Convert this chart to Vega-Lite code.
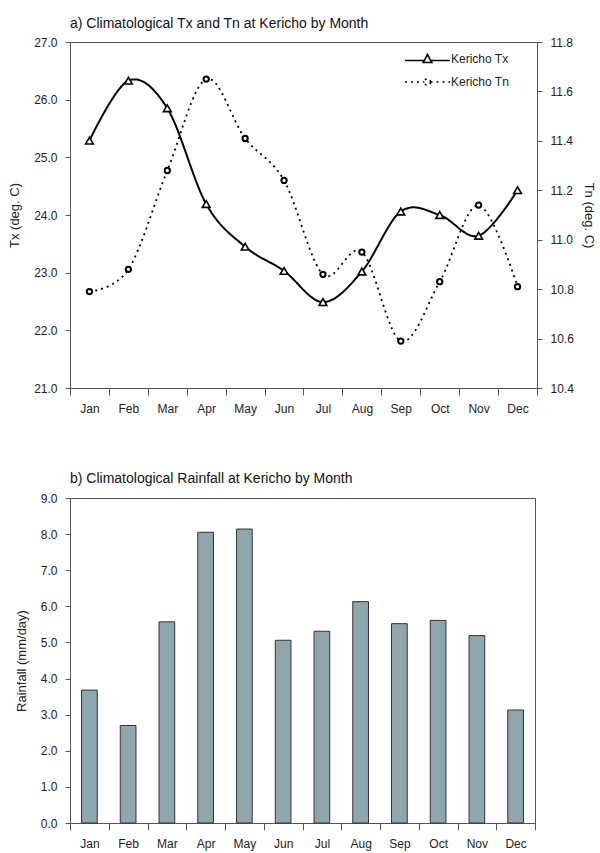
{
  "$schema": "https://vega.github.io/schema/vega-lite/v6.json",
  "background": "white",
  "padding": {"left": 8, "top": 16, "right": 2, "bottom": 2},
  "config": {
    "font": "Liberation Sans",
    "view": {"stroke": "#555555", "strokeWidth": 1},
    "axis": {
      "grid": false,
      "domainColor": "#555555",
      "tickColor": "#555555",
      "labelColor": "#222222",
      "titleColor": "#222222",
      "labelFontSize": 12,
      "titleFontSize": 13,
      "titleFontWeight": "normal",
      "labelFont": "Liberation Sans",
      "titleFont": "Liberation Sans"
    },
    "legend": {"labelFont": "Liberation Sans"},
    "title": {"font": "Liberation Sans", "fontSize": 14, "fontWeight": "normal", "anchor": "start", "frame": "group", "color": "#111111"}
  },
  "data": {
    "values": [
      {"month": "Jan", "tx": 25.29, "tn": 10.79, "rain": 3.68},
      {"month": "Feb", "tx": 26.33, "tn": 10.88, "rain": 2.70},
      {"month": "Mar", "tx": 25.85, "tn": 11.28, "rain": 5.57},
      {"month": "Apr", "tx": 24.19, "tn": 11.65, "rain": 8.05},
      {"month": "May", "tx": 23.45, "tn": 11.41, "rain": 8.14},
      {"month": "Jun", "tx": 23.03, "tn": 11.24, "rain": 5.06},
      {"month": "Jul", "tx": 22.49, "tn": 10.86, "rain": 5.31},
      {"month": "Aug", "tx": 23.02, "tn": 10.95, "rain": 6.13},
      {"month": "Sep", "tx": 24.06, "tn": 10.59, "rain": 5.52},
      {"month": "Oct", "tx": 24.00, "tn": 10.83, "rain": 5.61},
      {"month": "Nov", "tx": 23.64, "tn": 11.14, "rain": 5.19},
      {"month": "Dec", "tx": 24.43, "tn": 10.81, "rain": 3.13}
    ]
  },
  "spacing": 56,
  "vconcat": [
    {
      "width": 467,
      "height": 346,
      "title": {"text": "a) Climatological Tx and Tn at Kericho by Month", "offset": 5},
      "encoding": {
        "x": {
          "field": "month", "type": "ordinal", "sort": null,
          "scale": {"type": "band", "paddingInner": 0, "paddingOuter": 0},
          "axis": {"title": null, "labelAngle": 0, "tickBand": "extent", "tickSize": 7, "labelPadding": 8}
        }
      },
      "layer": [
        {
          "encoding": {
            "y": {
              "field": "tx", "type": "quantitative",
              "scale": {"domain": [21, 27], "zero": false, "nice": false},
              "axis": {"title": "Tx (deg. C)", "values": [21, 22, 23, 24, 25, 26, 27], "format": ".1f", "tickSize": 5, "labelPadding": 8, "titlePadding": 12}
            }
          },
          "layer": [
            {
              "mark": {"type": "line", "interpolate": "cardinal", "color": "black", "strokeWidth": 2},
              "encoding": {
                "strokeDash": {
                  "datum": "Kericho Tx", "type": "nominal",
                  "scale": {"domain": ["Kericho Tx", "Kericho Tn"], "range": [[1, 0], [2, 4]]},
                  "legend": {
                    "title": null,
                    "orient": "none",
                    "legendX": 334,
                    "legendY": 6,
                    "symbolSize": 400,
                    "symbolStrokeColor": "black",
                    "symbolStrokeWidth": 1.6,
                    "symbolFillColor": "white",
                    "labelOffset": 25,
                    "labelFontSize": 12,
                    "labelColor": "#222222",
                    "rowPadding": 5,
                    "encode": {
                      "symbols": {
                        "update": {
                          "shape": {"signal": "datum.value === 'Kericho Tx' ? 'M-1,0.15H0.85M1.65,0.15H3.5M1.25,-0.45L1.68,0.35L0.82,0.35Z' : 'M-1,0H0.95M1.55,0H3.5M1.55,0A0.3,0.35 0 1 1 0.95,0A0.3,0.35 0 1 1 1.55,0'"}
                        }
                      }
                    }
                  }
                }
              }
            },
            {
              "mark": {"type": "point", "shape": "triangle-up", "filled": true, "fill": "white", "stroke": "black", "strokeWidth": 1.6, "size": 60, "opacity": 1}
            }
          ]
        },
        {
          "encoding": {
            "y": {
              "field": "tn", "type": "quantitative",
              "scale": {"domain": [10.4, 11.8], "zero": false, "nice": false},
              "axis": {"title": "Tn (deg. C)", "orient": "right", "values": [10.4, 10.6, 10.8, 11.0, 11.2, 11.4, 11.6, 11.8], "format": ".1f", "tickSize": 5, "labelPadding": 8, "titlePadding": 8}
            }
          },
          "layer": [
            {
              "mark": {"type": "line", "interpolate": "cardinal", "color": "black", "strokeWidth": 1.8},
              "encoding": {"strokeDash": {"datum": "Kericho Tn", "type": "nominal"}}
            },
            {
              "mark": {"type": "point", "shape": "circle", "filled": true, "fill": "white", "stroke": "black", "strokeWidth": 2, "size": 28, "opacity": 1}
            }
          ]
        }
      ],
      "resolve": {"scale": {"y": "independent"}}
    },
    {
      "width": 465,
      "height": 325,
      "title": {"text": "b) Climatological Rainfall at Kericho by Month", "offset": 6},
      "mark": {"type": "bar", "width": {"band": 0.405}, "fill": "#8fa6ac", "stroke": "#333333", "strokeWidth": 1},
      "encoding": {
        "x": {
          "field": "month", "type": "ordinal", "sort": null,
          "scale": {"type": "band", "paddingInner": 0, "paddingOuter": 0},
          "axis": {"title": null, "labelAngle": 0, "tickBand": "extent", "tickSize": 7, "labelPadding": 8}
        },
        "y": {
          "field": "rain", "type": "quantitative",
          "scale": {"domain": [0, 9], "nice": false},
          "axis": {"title": "Rainfall (mm/day)", "values": [0, 1, 2, 3, 4, 5, 6, 7, 8, 9], "format": ".1f", "tickSize": 5, "labelPadding": 8, "titlePadding": 12}
        }
      }
    }
  ]
}
